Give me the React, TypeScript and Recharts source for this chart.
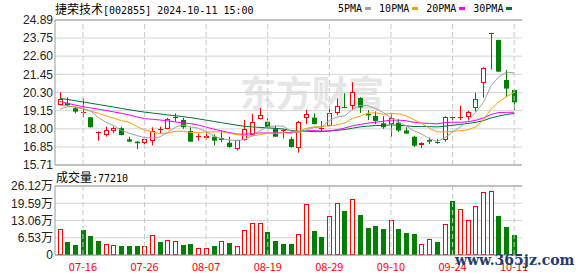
import React from 'react'
import { ComposedChart, Bar, Line, XAxis, YAxis, CartesianGrid, ReferenceLine } from 'recharts'

const dates = ['07-11', '07-12', '07-15', '07-16', '07-17', '07-18', '07-19', '07-22', '07-23', '07-24', '07-25', '07-26', '07-29', '07-30', '07-31',
  '08-01', '08-02', '08-05', '08-06', '08-07', '08-08', '08-09', '08-12', '08-13', '08-14', '08-15', '08-16', '08-19', '08-20', '08-21', '08-22', '08-23', '08-26', '08-27', '08-28', '08-29', '08-30',
  '09-02', '09-03', '09-04', '09-05', '09-06', '09-09', '09-10', '09-11', '09-12', '09-13', '09-18', '09-19', '09-20', '09-23', '09-24', '09-25', '09-26', '09-27', '09-30',
  '10-08', '10-09', '10-10', '10-11']

const opens = [19.49, 19.62, 19.30, 19.03, 18.73, 17.78, 17.59, 17.89, 18.04, 17.34, 17.19, 17.09, 17.20, 17.92, 18.00, 18.70, 18.56, 17.86, 17.52, 17.40,
  17.50, 17.42, 17.12, 16.70, 17.29, 17.62, 18.62, 18.45, 18.02, 17.86, 17.35, 16.77, 18.67, 18.71, 18.00, 18.20, 18.98, 19.37, 19.45, 19.95,
  18.95, 18.82, 18.35, 18.29, 18.39, 17.90, 17.50, 16.98, 17.29, 17.18, 17.30, 18.75, 18.73, 18.72, 19.34, 20.88, 24.05, 23.62, 21.09, 20.46]
const highs = [20.31, 20.00, 19.40, 19.93, 18.75, 17.83, 18.14, 18.14, 18.12, 17.50, 17.23, 17.50, 18.10, 18.14, 18.70, 18.98, 18.70, 18.10, 17.70, 17.72,
  17.65, 17.90, 17.50, 17.32, 18.56, 18.95, 19.33, 18.67, 18.20, 17.95, 17.50, 18.50, 19.20, 18.98, 18.50, 19.40, 19.93, 20.25, 20.95, 20.00,
  19.19, 19.10, 18.80, 18.98, 18.60, 18.10, 17.55, 17.15, 17.45, 17.35, 18.80, 18.80, 19.47, 19.15, 20.29, 21.90, 24.08, 23.65, 21.73, 20.50]
const lows = [19.45, 19.40, 18.98, 18.73, 18.08, 17.25, 17.51, 17.72, 17.58, 17.17, 16.71, 17.04, 16.95, 17.72, 17.98, 18.45, 18.00, 17.17, 17.25, 17.29,
  16.95, 17.15, 16.80, 16.62, 17.25, 17.60, 18.60, 18.10, 17.48, 17.40, 16.80, 16.49, 18.30, 18.28, 17.80, 18.15, 18.85, 19.30, 19.20, 19.00,
  18.55, 18.30, 18.00, 17.50, 17.80, 17.68, 16.85, 16.78, 17.05, 17.05, 17.18, 18.20, 18.56, 18.58, 19.10, 19.98, 21.75, 21.60, 20.00, 19.19]
const closes = [19.87, 19.49, 19.09, 19.09, 18.10, 17.82, 17.93, 18.04, 17.61, 17.19, 17.09, 17.34, 17.85, 17.96, 18.61, 18.73, 18.10, 17.19, 17.55, 17.55,
  17.25, 17.30, 16.85, 17.30, 17.97, 18.45, 18.86, 18.12, 17.50, 17.90, 16.85, 18.45, 18.92, 18.30, 18.03, 18.98, 19.45, 19.33, 20.35, 19.35,
  18.85, 18.50, 18.10, 18.71, 17.90, 17.70, 16.93, 17.12, 17.19, 17.13, 18.77, 18.72, 18.77, 19.08, 19.89, 21.87, 24.00, 21.62, 20.55, 19.68]

const ma5 = [19.24, 19.40, 19.38, 19.25, 19.13, 18.72, 18.41, 18.20, 17.90, 17.72, 17.57, 17.45, 17.42, 17.49, 17.77, 18.10, 18.25, 18.12, 18.04, 17.82,
  17.53, 17.37, 17.30, 17.25, 17.33, 17.57, 17.89, 18.14, 18.18, 18.17, 17.85, 17.76, 17.92, 18.08, 18.11, 18.54, 18.74, 18.82, 19.23, 19.49,
  19.47, 19.28, 19.03, 18.70, 18.41, 18.18, 17.87, 17.67, 17.37, 17.21, 17.43, 17.79, 18.12, 18.49, 19.05, 19.67, 20.72, 21.29, 21.59, 21.54]
const ma10 = [19.48, 19.45, 19.40, 19.30, 19.12, 18.98, 18.82, 18.67, 18.52, 18.42, 18.15, 17.93, 17.81, 17.69, 17.74, 17.84, 17.85, 17.77, 17.76, 17.80,
  17.81, 17.81, 17.71, 17.64, 17.58, 17.55, 17.63, 17.72, 17.72, 17.75, 17.71, 17.83, 18.03, 18.13, 18.14, 18.19, 18.25, 18.37, 18.66, 18.80,
  19.00, 19.01, 18.92, 18.97, 18.95, 18.82, 18.57, 18.35, 18.04, 17.81, 17.81, 17.83, 17.89, 17.93, 18.13, 18.55, 19.25, 19.70, 20.04, 20.30]
const ma20 = [19.74, 19.62, 19.50, 19.40, 19.32, 19.24, 19.16, 19.07, 18.98, 18.88, 18.75, 18.65, 18.60, 18.56, 18.50, 18.44, 18.38, 18.32, 18.24, 18.11,
  17.98, 17.87, 17.76, 17.67, 17.66, 17.69, 17.74, 17.74, 17.74, 17.77, 17.76, 17.82, 17.87, 17.89, 17.86, 17.87, 17.94, 18.05, 18.19, 18.28,
  18.36, 18.42, 18.48, 18.55, 18.55, 18.51, 18.41, 18.36, 18.35, 18.31, 18.40, 18.42, 18.41, 18.45, 18.54, 18.69, 18.91, 19.03, 19.04, 19.05]
const ma30 = [19.93, 19.86, 19.78, 19.70, 19.62, 19.54, 19.46, 19.38, 19.29, 19.21, 19.13, 19.06, 19.00, 18.94, 18.88, 18.83, 18.77, 18.71, 18.63, 18.55,
  18.47, 18.39, 18.31, 18.23, 18.16, 18.12, 18.09, 18.06, 18.03, 17.99, 17.89, 17.85, 17.85, 17.82, 17.82, 17.86, 17.91, 17.95, 18.04, 18.12,
  18.17, 18.21, 18.22, 18.25, 18.22, 18.19, 18.15, 18.15, 18.14, 18.12, 18.17, 18.22, 18.28, 18.34, 18.41, 18.52, 18.69, 18.81, 18.91, 18.97]

// volume in 万手
const volumes = [9.66, 4.94, 3.69, 9.39, 7.11, 5.21, 4.07, 3.69, 3.31, 3.31, 3.31, 3.31, 7.49, 4.94, 5.84, 5.21, 3.69, 4.07, 2.80, 2.55,
  3.31, 5.21, 4.56, 3.56, 9.39, 12.3, 12.3, 8.75, 5.21, 4.0, 4.07, 7.87, 19.16, 9.01, 6.73, 14.7, 19.5, 16.6, 21.05, 15.1,
  10.3, 10.9, 9.77, 13.4, 9.77, 8.37, 7.87, 4.33, 6.22, 4.94, 11.7, 20.4, 17.4, 13.2, 18.5, 23.7, 24.2, 14.7, 10.6, 7.72]
const volColors = ['R', 'G', 'G', 'G', 'G', 'G', 'R', 'R', 'G', 'G', 'G', 'R', 'R', 'G', 'R', 'R', 'G', 'G', 'R', 'R',
  'G', 'R', 'G', 'R', 'R', 'R', 'R', 'G', 'G', 'G', 'G', 'R', 'R', 'G', 'G', 'R', 'R', 'G', 'R', 'G',
  'G', 'G', 'G', 'R', 'G', 'G', 'G', 'R', 'R', 'G', 'R', 'G', 'R', 'R', 'R', 'R', 'R', 'G', 'G', 'G']

const priceTicks = [15.71, 16.85, 18.0, 19.15, 20.3, 21.45, 22.6, 23.75, 24.89]
const volTicks = [0, 6.53, 13.06, 19.59, 26.12]
const dateTicks = ['07-16', '07-26', '08-07', '08-19', '08-29', '09-10', '09-24', '10-11']

const UP = '#ff0000'
const DOWN = '#008000'
const BORDER = '#999'
const GRID = '#d4d4d4'

const rows = dates.map((date, i) => ({
  date,
  open: opens[i],
  high: highs[i],
  low: lows[i],
  close: closes[i],
  ma5: ma5[i],
  ma10: ma10[i],
  ma20: ma20[i],
  ma30: ma30[i],
  vol: volumes[i],
  volUp: volColors[i] === 'R',
}))

const legend = [
  { name: '5PMA', color: '#a0a0a0' },
  { name: '10PMA', color: '#f5a300' },
  { name: '20PMA', color: '#ff00ff' },
  { name: '30PMA', color: '#00703a' },
]

function Candle(props: any) {
  const { x, y, width, height, payload } = props
  if (x == null || !payload) return null
  const { open, close, high, low } = payload
  const span = high - low || 1
  const py = (v: number) => y + ((high - v) / span) * height
  const cx = Math.round(x + width / 2) + 0.5
  const up = close >= open
  const color = up ? UP : DOWN
  const top = py(Math.max(open, close))
  const bot = py(Math.min(open, close))
  const bodyH = bot - top
  let body
  if (bodyH < 1.5) {
    const yy = Math.round(top) + 0.5
    body = <line x1={cx - 2.5} x2={cx + 2.5} y1={yy} y2={yy} stroke={color} />
  } else if (up) {
    const t = Math.round(top)
    const b = Math.round(bot)
    body = <rect x={cx - 2} y={t + 0.5} width={4} height={b - t - 1} fill="#fff" stroke={color} />
  } else {
    body = <rect x={cx - 2.5} y={top} width={5} height={bodyH} fill={color} />
  }
  return (
    <g>
      <line x1={cx} x2={cx} y1={py(high)} y2={py(low)} stroke={color} />
      {body}
    </g>
  )
}

function VolBar(props: any) {
  const { x, y, width, height, payload } = props
  if (x == null || !payload) return null
  const cx = Math.round(x + width / 2) + 0.5
  const t = Math.round(y)
  const b = Math.round(y + height)
  if (payload.volUp) {
    return <rect x={cx - 2} y={t + 0.5} width={4} height={Math.max(b - t - 1, 0)} fill="#fff" stroke={UP} />
  }
  return <rect x={cx - 2.5} y={t} width={5} height={b - t} fill={DOWN} />
}

const axisFont = { fontSize: 12, fill: '#222', fontFamily: '"Liberation Sans", "Noto Sans CJK SC", sans-serif' }
const mono = '"DejaVu Sans Mono", monospace'
const cjk = '"Noto Sans CJK SC", sans-serif'

export default function App() {
  return (
    <div style={{ position: 'absolute', left: 0, top: 0, width: 578, height: 276, background: '#fff', overflow: 'hidden' }}>
      <div style={{ position: 'absolute', left: 240, top: 70, fontSize: 36, lineHeight: '42px', fontWeight: 700, color: '#e6e6e6', fontFamily: cjk }}>
        东方财富
      </div>

      <div style={{ position: 'absolute', left: 0, top: 0 }}>
        <ComposedChart width={578} height={174} data={rows} margin={{ top: 20, right: 56, bottom: 9, left: 0 }}>
          <CartesianGrid vertical={false} stroke={GRID} />
          <XAxis dataKey="date" hide padding={{ left: 1, right: 4 }} />
          <YAxis
            domain={[15.71, 24.89]}
            ticks={priceTicks}
            tickFormatter={(v: number) => v.toFixed(2)}
            width={55}
            tickLine={false}
            tickSize={0}
            tickMargin={2}
            axisLine={{ stroke: BORDER }}
            tick={axisFont}
            interval={0}
          />
          <YAxis yAxisId="r" orientation="right" domain={[15.71, 24.89]} width={0} tick={false} tickLine={false} axisLine={{ stroke: BORDER }} />
          {dateTicks.map((d) => (
            <ReferenceLine key={d} x={d} stroke="#c8c8c8" strokeDasharray="5 3" />
          ))}
          <ReferenceLine y={24.89} stroke={BORDER} />
          <ReferenceLine y={15.71} stroke={BORDER} />
          <Line dataKey="ma30" stroke="#00703a" dot={false} strokeWidth={1} isAnimationActive={false} />
          <Line dataKey="ma20" stroke="#ff00ff" dot={false} strokeWidth={1} isAnimationActive={false} />
          <Line dataKey="ma10" stroke="#f5a300" dot={false} strokeWidth={1} isAnimationActive={false} />
          <Line dataKey="ma5" stroke="#a0a0a0" dot={false} strokeWidth={1} isAnimationActive={false} />
          <Bar dataKey={(d: any) => [d.low, d.high]} barSize={5} shape={Candle} isAnimationActive={false} />
        </ComposedChart>
      </div>

      <div style={{ position: 'absolute', left: 0, top: 170 }}>
        <ComposedChart width={578} height={106} data={rows} margin={{ top: 16, right: 56, bottom: 0, left: 0 }}>
          <CartesianGrid vertical={false} stroke={GRID} />
          <XAxis
            dataKey="date"
            ticks={dateTicks}
            interval={0}
            height={21}
            padding={{ left: 1, right: 4 }}
            tickLine={false}
            tickSize={0}
            tickMargin={8}
            axisLine={{ stroke: '#888' }}
            tick={{ fontSize: 11, fill: '#ff0000', fontFamily: cjk }}
          />
          <YAxis
            domain={[0, 26.12]}
            ticks={volTicks}
            tickFormatter={(v: number) => (v === 0 ? '0' : v.toFixed(2) + '万')}
            width={55}
            tickLine={false}
            tickSize={0}
            tickMargin={2}
            axisLine={{ stroke: BORDER }}
            tick={axisFont}
            interval={0}
          />
          <YAxis yAxisId="r" orientation="right" domain={[0, 26.12]} width={0} tick={false} tickLine={false} axisLine={{ stroke: BORDER }} />
          {dateTicks.map((d) => (
            <ReferenceLine key={d} x={d} stroke="#c8c8c8" strokeDasharray="5 3" />
          ))}
          <ReferenceLine y={26.12} stroke={BORDER} />
          <Bar dataKey="vol" barSize={5} shape={VolBar} isAnimationActive={false} />
        </ComposedChart>
      </div>

      <div style={{ position: 'absolute', left: 55, top: 1, lineHeight: '16px', whiteSpace: 'nowrap', color: '#000' }}>
        <span style={{ fontFamily: cjk, fontSize: 12 }}>捷荣技术</span>
        <span style={{ fontFamily: mono, fontSize: 10 }}>[002855] 2024-10-11 15:00</span>
      </div>

      <div style={{ position: 'absolute', left: 338, top: 0, lineHeight: '17px', whiteSpace: 'nowrap', display: 'flex', alignItems: 'center', gap: 8 }}>
        {legend.map((l) => (
          <span key={l.name} style={{ display: 'flex', alignItems: 'center' }}>
            <span style={{ fontFamily: mono, fontSize: 10, color: '#000' }}>{l.name}</span>
            <span style={{ display: 'inline-block', width: 6, height: 3, background: l.color, marginLeft: 3 }} />
          </span>
        ))}
      </div>

      <div style={{ position: 'absolute', left: 56, top: 169, lineHeight: '16px', whiteSpace: 'nowrap', color: '#000' }}>
        <span style={{ fontFamily: cjk, fontSize: 12 }}>成交量</span>
        <span style={{ fontFamily: mono, fontSize: 10 }}>:77210</span>
      </div>

      <div style={{ position: 'absolute', left: 455, top: 252, fontFamily: '"DejaVu Serif", serif', fontWeight: 700, fontSize: 14, color: '#1e3c72', whiteSpace: 'nowrap' }}>
        www.365jz.com
      </div>
    </div>
  )
}
